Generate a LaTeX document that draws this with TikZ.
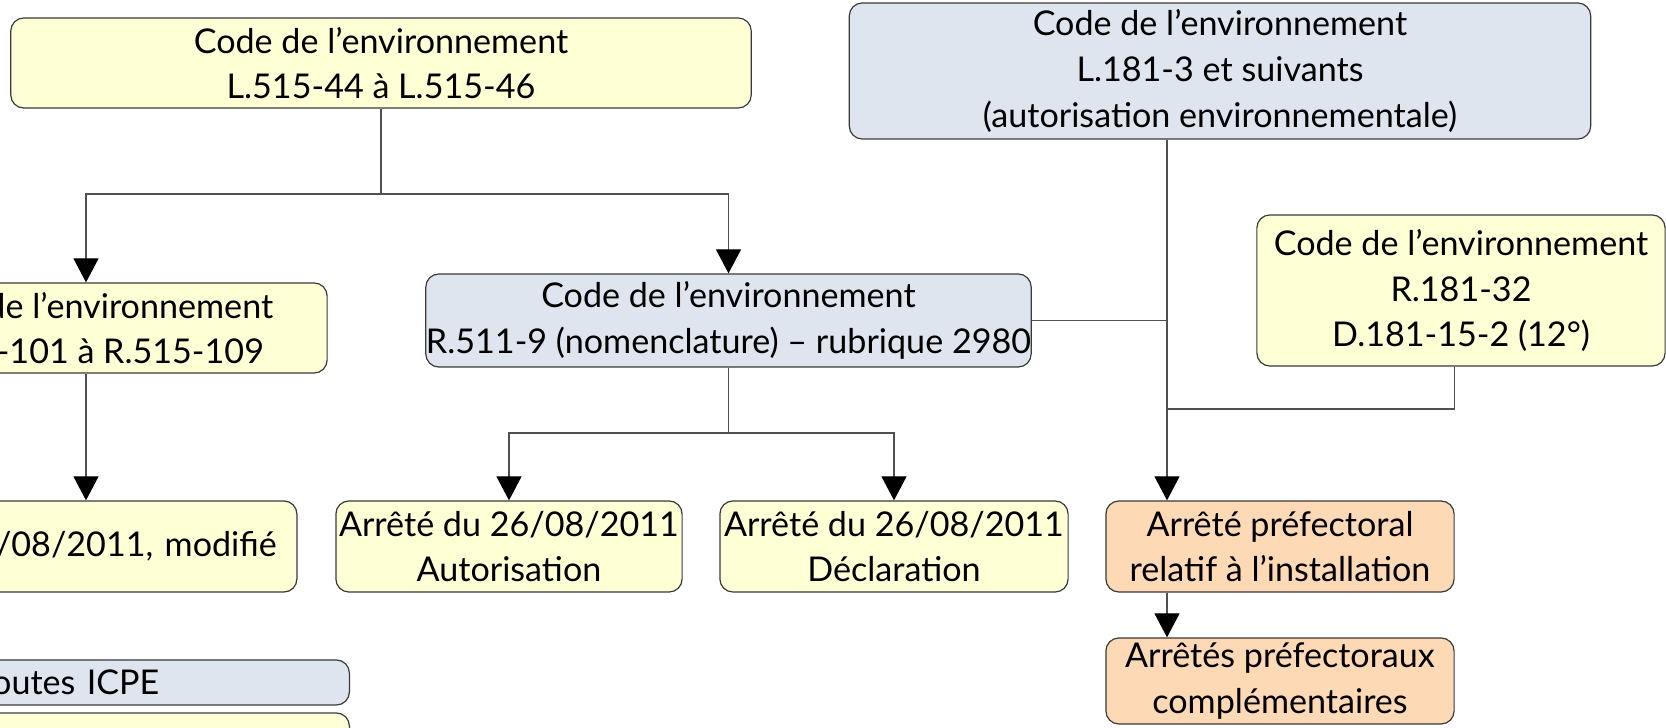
\documentclass[tikz,border=0pt]{standalone}
\usepackage{fontspec}
\setmainfont{Lato}
\usetikzlibrary{arrows.meta}
\definecolor{boxyellow}{HTML}{FFFFD5}
\definecolor{boxblue}{HTML}{DEE5EF}
\definecolor{boxorange}{HTML}{FDD9B5}
\definecolor{boxline}{HTML}{3A3A3A}
\definecolor{wireline}{HTML}{505050}
\tikzset{
  textbox/.style={draw=boxline, line width=0.012cm, rounded corners=0.13cm,
    align=center, inner sep=0pt, font=\fontsize{9.7}{13}\selectfont},
  wire/.style={draw=wireline, line width=0.012cm},
  flow/.style={wire, -{Triangle[width=0.25cm,length=0.24cm,black]}}
}
\begin{document}
\begin{tikzpicture}[x=0.01cm,y=-0.01cm]
                \useasboundingbox (0,0) rectangle (1666,728);
                \clip (0,0) rectangle (1666,728);

                % Drawing box L.515-44
                \node [textbox, fill=boxyellow, minimum width=7.40cm, minimum height=0.90cm] (codeL) at (381,63) {Code de l’environnement\\L.515-44 à L.515-46};%

                % Drawing box L.181-3
                \node [textbox, fill=boxblue, minimum width=7.41cm, minimum height=1.36cm] (codeAE) at (1220,71) {Code de l’environnement\\L.181-3 et suivants\\(autorisation environnementale)};%

                % Drawing box R.515-101
                \node [textbox, fill=boxyellow, minimum width=4.82cm, minimum height=0.90cm] (codeR) at (86,328) {Code de l’environnement\\R.515-101 à R.515-109};%

                % Drawing box arrete modifie
                \node [textbox, fill=boxyellow, anchor=east, text width=6.5cm, align=right, inner xsep=0.2cm, minimum height=0.91cm] (amod) at (297.5,546.5) {Arrêté du 26/08/2011, modifié};%

                % Drawing box R.511-9
                \node [textbox, fill=boxblue, minimum width=6.05cm, minimum height=0.93cm] (nomen) at (728.5,320.5) {Code de l’environnement\\R.511-9 (nomenclature) – rubrique 2980};%

                % Drawing box arrete autorisation
                \node [textbox, fill=boxyellow, minimum width=3.46cm, minimum height=0.91cm] (aaut) at (509,546.5) {Arrêté du 26/08/2011\\Autorisation};%

                % Drawing box arrete declaration
                \node [textbox, fill=boxyellow, minimum width=3.48cm, minimum height=0.91cm] (adecl) at (894,546.5) {Arrêté du 26/08/2011\\Déclaration};%

                % Drawing box R.181-32
                \node [textbox, fill=boxyellow, minimum width=4.08cm, minimum height=1.51cm] (codeRD) at (1461,290.5) {Code de l’environnement\\R.181-32\\D.181-15-2 (12°)};%

                % Drawing box arrete prefectoral
                \node [textbox, fill=boxorange, minimum width=3.48cm, minimum height=0.91cm] (apref) at (1280,546.5) {Arrêté préfectoral\\relatif à l’installation};%

                % Drawing box arretes complementaires
                \node [textbox, fill=boxorange, minimum width=3.48cm, minimum height=0.86cm] (acompl) at (1280,681) {Arrêtés préfectoraux\\complémentaires};%

                % Drawing legend boxes
                \node [textbox, fill=boxblue, anchor=east, text width=3.73cm, align=left, minimum height=0.45cm] (legA) at (350,682.5) {Toutes ICPE};%
                \node [textbox, fill=boxyellow, anchor=east, minimum width=4.2cm, minimum height=0.45cm] (legB) at (350,735.5) {};%

                % Drawing links from L.515-44
                \coordinate (splitL) at (381,194);
                \draw [wire] (codeL.south) -- (splitL);%
                \draw [flow] (splitL) -| (codeR.north);%
                \draw [flow] (splitL) -| (nomen.north);%
                \draw [flow] (codeR.south) -- (amod.north -| codeR.south);%

                % Drawing links from R.511-9
                \coordinate (splitN) at (728.5,433);
                \draw [wire] (nomen.south) -- (splitN);%
                \draw [flow] (splitN) -| (aaut.north);%
                \draw [flow] (splitN) -| (adecl.north);%

                % Drawing links to arrete prefectoral
                \coordinate (trunk) at (1167,409);
                \draw [flow] (codeAE.south -| trunk) -- (apref.north -| trunk);%
                \draw [wire] (nomen.east) -- (nomen.east -| trunk);%
                \draw [wire] (codeRD.south -| apref.east) |- (trunk);%
                \draw [flow] (apref.south -| trunk) -- (acompl.north -| trunk);%
\end{tikzpicture}
\end{document}
